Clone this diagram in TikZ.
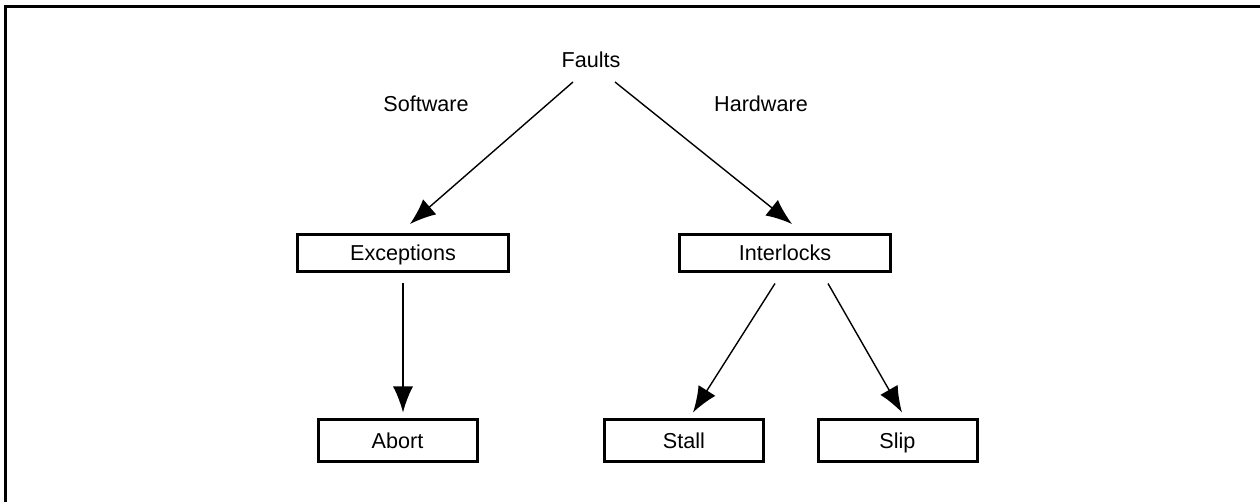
\documentclass[tikz,border=0pt]{standalone}
\usepackage{fontspec}
\setmainfont{Liberation Sans}
\usetikzlibrary{arrows.meta}
\begin{document}
\begin{tikzpicture}[
        x=0.5pt,
        y=-0.5pt,
        line join=miter,
        % 样式
        txt/.style={font=\fontsize{10.8}{12}\selectfont,text height=7.8pt,text depth=0.2pt},
        topbox/.style={txt,draw,line width=1.5pt,inner sep=0pt,
            minimum width=105.5pt,minimum height=18.5pt},
        leafbox/.style={topbox,minimum width=79.5pt,minimum height=21pt},
        arr/.style={line width=0.7pt,-{Latex[length=13pt,width=10pt]}},
        frame/.style={line width=1.5pt},
    ]
    \useasboundingbox (0,0) rectangle (1260,502);

    % 外框
    \draw[frame] (5,512) -- (5,7) -- (1270,7);

    % 文字
    \node[txt] (faults) at (591,60) {Faults};
    \node[txt] (sw) at (426,104) {Software};
    \node[txt] (hw) at (761,104) {Hardware};

    % 方框
    \node[topbox] (exc) at (403,253) {Exceptions};
    \node[topbox] (intl) at (785,253) {Interlocks};
    \node[leafbox] (abort) at (397.5,440.5) {Abort};
    \node[leafbox] (stall) at (684,440.5) {Stall};
    \node[leafbox] (slip) at (897.5,440.5) {Slip};

    % 箭头
    \draw[arr] ([shift={(-18,22)}]faults.center) -- ([shift={(7,-9)}]exc.north);
    \draw[arr] ([shift={(24,22)}]faults.center) -- ([shift={(7,-9)}]intl.north);
    \draw[arr] ([shift={(0,10.5)}]exc.south) -- ([shift={(5.5,-5.5)}]abort.north);
    \draw[arr] ([shift={(-10,10.5)}]intl.south) -- ([shift={(9,-5.5)}]stall.north);
    \draw[arr] ([shift={(43,10.5)}]intl.south) -- ([shift={(4.5,-5.5)}]slip.north);
\end{tikzpicture}
\end{document}
